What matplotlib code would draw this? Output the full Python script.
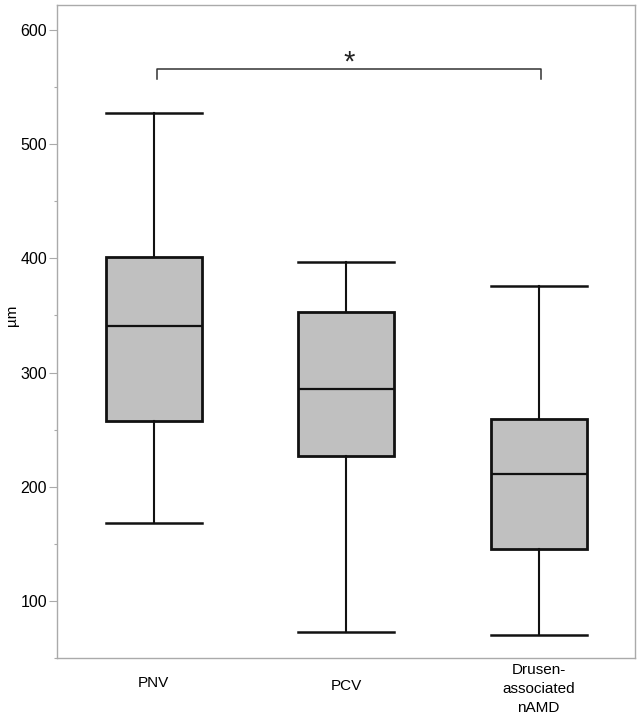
import matplotlib
matplotlib.use("Agg")
import matplotlib.pyplot as plt

plt.rcParams['font.family'] = ['Liberation Sans', 'DejaVu Sans']

categories = ["PNV", "PCV", "Drusen-\nassociated\nnAMD"]
whisker_low = [168, 73, 70]
q1 = [258, 227, 146]
median = [341, 286, 211]
q3 = [401, 353, 259]
whisker_high = [527, 397, 376]
y_ticks = [100, 200, 300, 400, 500, 600]
sig_pair = (1, 3)
sig_label = "*"
sig_y = 566
sig_drop = 9

fig = plt.figure(figsize=(6.4, 7.16), dpi=100)
ax = fig.add_axes([0.0898, 0.0806, 0.9022, 0.9131])

stats = []
for i, name in enumerate(categories):
    stats.append(dict(label=name, whislo=whisker_low[i], q1=q1[i], med=median[i],
                      q3=q3[i], whishi=whisker_high[i], fliers=[]))

positions = list(range(1, len(categories) + 1))
ax.bxp(stats, positions=positions, widths=0.5, patch_artist=True, showfliers=False,
       boxprops=dict(facecolor='#c0c0c0', edgecolor='#111111', linewidth=2.0),
       medianprops=dict(color='#111111', linewidth=1.6),
       whiskerprops=dict(color='#111111', linewidth=1.5),
       capprops=dict(color='#111111', linewidth=1.8),
       capwidths=0.5)

ax.set_xlim(0.5, 3.5)
ax.set_ylim(50, 622)
ax.set_yticks(y_ticks)
ax.set_yticks([v + 50 for v in y_ticks[:-1]] + [50], minor=True)
ax.tick_params(axis='y', which='major', length=6, width=0.8, color='#aaaaaa',
               labelsize=11.5, pad=1.5)
ax.tick_params(axis='y', which='minor', length=2.5, width=0.8, color='#aaaaaa')
ax.tick_params(axis='x', length=0, labelsize=11)
ax.set_xticks(positions)
ax.set_xticklabels(categories, linespacing=1.45)
ticks = ax.xaxis.get_major_ticks()
ticks[0].set_pad(12.5)
ticks[1].set_pad(14.8)
ticks[2].set_pad(3.5)

for s in ax.spines.values():
    s.set_color('#aaaaaa')
    s.set_linewidth(1.0)

ax.set_ylabel("µm", fontsize=11)
ax.yaxis.set_label_coords(-0.067, 0.525)

x1, x2 = sig_pair
x1 += 0.015
x2 += 0.012
ax.plot([x1, x1, x2, x2], [sig_y - sig_drop, sig_y, sig_y, sig_y - sig_drop],
        color='#333333', linewidth=1.1, solid_joinstyle='round')
ax.text((x1 + x2) / 2, 564, sig_label, ha='center', va='baseline', fontsize=21,
        color='#222222')

fig.savefig("out.png", dpi=100)
